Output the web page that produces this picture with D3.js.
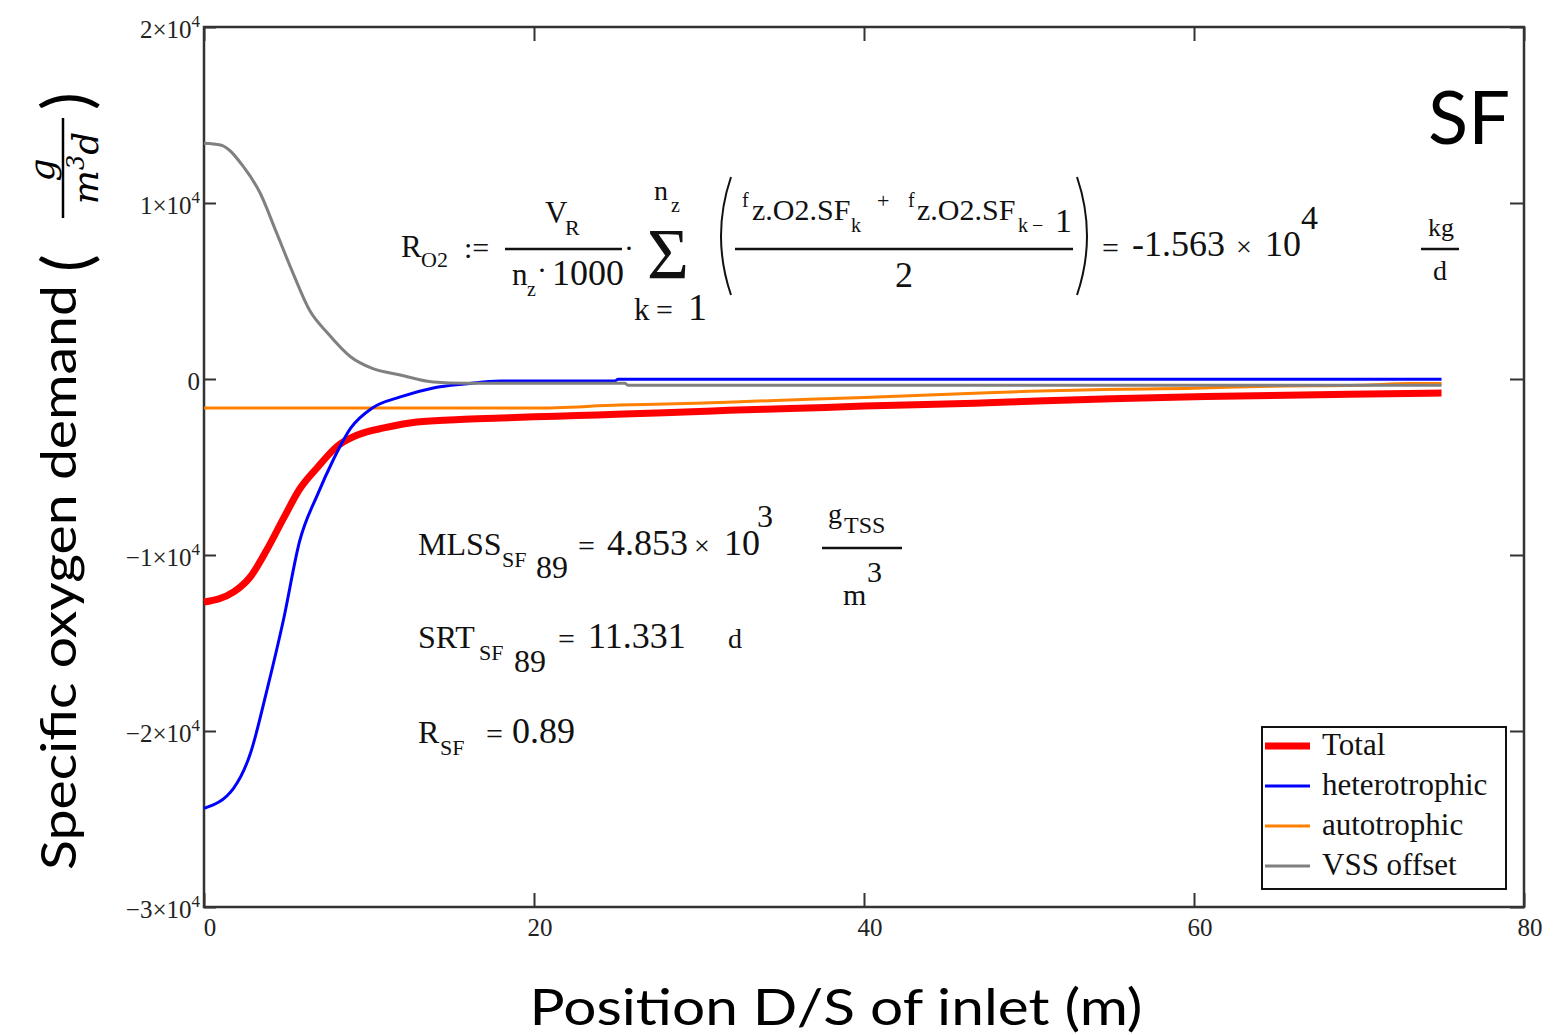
<!DOCTYPE html>
<html>
<head>
<meta charset="utf-8">
<script src="https://cdnjs.cloudflare.com/ajax/libs/d3/7.8.5/d3.min.js"></script>
<style>
body { margin: 0; background: #fff; }
</style>
</head>
<body>
<script>
// position D/S of inlet (m) and oxygen demand (g/m3/d)
var posTotal = [0, 1.8, 2.8, 3.8, 4.8, 5.8, 6.9, 8.1, 9.3, 10.9, 12.9, 15.5, 18, 20, 22.6, 25, 27.9, 30, 31.8, 35.5, 40, 46.7, 50.5, 55, 60.7, 69.4, 75];
var valTotal = [-12670, -12100, -11250, -9720, -7950, -6250, -5000, -3800, -3180, -2780, -2440, -2300, -2220, -2150, -2080, -2000, -1920, -1850, -1780, -1680, -1540, -1380, -1250, -1120, -1000, -870, -800];

var posHetero = [0, 1.8, 2.8, 3.8, 4.8, 5.8, 6.9, 7.8, 8.9, 10.2, 11.9, 13.9, 15.8, 18, 24.9, 25.1, 75];
var valHetero = [-24400, -23240, -21310, -17730, -13750, -9200, -6530, -4660, -2780, -1650, -1020, -510, -280, -110, -110, -20, -20];

var posAuto = [0, 20, 25.2, 29.8, 33.6, 40, 46.7, 50, 54.6, 60, 64, 70, 73, 75];
var valAuto = [-1650, -1650, -1480, -1380, -1250, -1050, -810, -700, -590, -530, -420, -360, -260, -250];

var posVss = [0, 1, 2.4, 3.4, 4.4, 5.4, 6.4, 7.5, 8.9, 10.2, 11.9, 13.9, 15.9, 25.5, 25.7, 75];
var valVss = [13400, 13300, 12050, 10570, 8300, 6000, 3900, 2600, 1250, 600, 230, -170, -240, -240, -360, -360];

var seriesNames = ["Total", "heterotrophic", "autotrophic", "VSS offset"];
var seriesColors = ["#ff0000", "#0000ff", "#ff8000", "#808080"];

var xTickValues = [0, 20, 40, 60, 80];
var yTickValues = [-30000, -20000, -10000, 0, 10000, 20000];
var yTickMantissa = ["\u22123", "\u22122", "\u22121", "0", "1", "2"];

var svgWidth = 1554;
var svgHeight = 1035;

var margin = { top: 27, right: 30, bottom: 128, left: 204 };
var chartWidth = svgWidth - margin.left - margin.right;
var chartHeight = svgHeight - margin.top - margin.bottom;

var serif = "'Liberation Serif', 'Times New Roman', serif";
var sans = "Lato, 'Open Sans', sans-serif";

var svg = d3.select("body")
    .append("svg")
    .attr("width", svgWidth)
    .attr("height", svgHeight);

var chartGroup = svg.append("g")
    .attr("transform", `translate(${margin.left},${margin.top})`);

var xScale = d3.scaleLinear().domain([0, 80]).range([0, chartWidth]);
var yScale = d3.scaleLinear().domain([-30000, 20000]).range([chartHeight, 0]);

// ticks on all four sides, pointing inwards
chartGroup.append("g")
    .attr("transform", `translate(0, ${chartHeight})`)
    .call(d3.axisBottom(xScale).tickValues(xTickValues).tickSize(-14).tickFormat(""))
    .call(g => g.select(".domain").remove());
chartGroup.append("g")
    .call(d3.axisTop(xScale).tickValues(xTickValues).tickSize(-14).tickFormat(""))
    .call(g => g.select(".domain").remove());
chartGroup.append("g")
    .call(d3.axisLeft(yScale).tickValues(yTickValues).tickSize(-12).tickFormat(""))
    .call(g => g.select(".domain").remove());
chartGroup.append("g")
    .attr("transform", `translate(${chartWidth}, 0)`)
    .call(d3.axisRight(yScale).tickValues(yTickValues).tickSize(-14).tickFormat(""))
    .call(g => g.select(".domain").remove());
chartGroup.selectAll(".tick line").attr("stroke", "#333").attr("stroke-width", 2);

chartGroup.append("rect")
    .attr("width", chartWidth)
    .attr("height", chartHeight)
    .attr("fill", "none")
    .attr("stroke", "#333")
    .attr("stroke-width", 2.5);

// tick labels
chartGroup.selectAll(".x-label")
    .data(xTickValues)
    .enter()
    .append("text")
    .attr("x", d => xScale(d) + 6)
    .attr("y", chartHeight + 29)
    .attr("text-anchor", "middle")
    .attr("font-family", serif)
    .attr("font-size", 25)
    .attr("fill", "#222")
    .text(d => d);

var yLabels = chartGroup.selectAll(".y-label")
    .data(yTickValues)
    .enter()
    .append("text")
    .attr("x", -4)
    .attr("y", d => yScale(d) + 11)
    .attr("text-anchor", "end")
    .attr("font-family", serif)
    .attr("font-size", 25)
    .attr("fill", "#222");
yLabels.append("tspan").text((d, i) => d === 0 ? "0" : yTickMantissa[i] + "\u00d710");
yLabels.filter(d => d !== 0).append("tspan")
    .attr("dy", -11)
    .attr("font-size", 17)
    .text("4");

// curves
var line = d3.line()
    .x(d => xScale(d[0]))
    .y(d => yScale(d[1]))
    .curve(d3.curveMonotoneX);

var seriesData = [
    d3.zip(posTotal, valTotal),
    d3.zip(posHetero, valHetero),
    d3.zip(posAuto, valAuto),
    d3.zip(posVss, valVss)
];
var widths = [7, 3, 3, 3];
var drawOrder = [0, 2, 1, 3];

drawOrder.forEach(function (i) {
    chartGroup.append("path")
        .datum(seriesData[i])
        .attr("d", line)
        .attr("fill", "none")
        .attr("stroke", seriesColors[i])
        .attr("stroke-width", widths[i])
        .attr("stroke-linejoin", "round");
});

// legend
var legend = svg.append("g").attr("transform", "translate(1262, 727)");
legend.append("rect")
    .attr("width", 244)
    .attr("height", 162)
    .attr("fill", "#fff")
    .attr("stroke", "#111")
    .attr("stroke-width", 2);
seriesNames.forEach(function (name, i) {
    legend.append("line")
        .attr("x1", 3).attr("x2", 48)
        .attr("y1", 19 + i * 40).attr("y2", 19 + i * 40)
        .attr("stroke", seriesColors[i])
        .attr("stroke-width", widths[i]);
    legend.append("text")
        .attr("x", 60)
        .attr("y", 28 + i * 40)
        .attr("font-family", serif)
        .attr("font-size", 31)
        .attr("fill", "#111")
        .text(name);
});

// Mathcad annotations
function put(x, y, str, size, anchor) {
    return svg.append("text")
        .attr("x", x)
        .attr("y", y)
        .attr("font-family", serif)
        .attr("font-size", size)
        .attr("text-anchor", anchor || "start")
        .attr("fill", "#111")
        .text(str);
}
function bar(x1, x2, y) {
    svg.append("line")
        .attr("x1", x1).attr("x2", x2)
        .attr("y1", y).attr("y2", y)
        .attr("stroke", "#111")
        .attr("stroke-width", 2.5);
}

put(401, 257, "R", 31);
put(421, 267, "O2", 22);
put(464, 258, ":=", 30);
bar(505, 622, 249);
put(545, 223, "V", 31);
put(565, 235, "R", 22);
put(512, 285, "n", 31);
put(527, 296, "z", 20);
put(537, 280, "\u00b7", 30);
put(552, 285, "1000", 36);
put(624, 258, "\u00b7", 30);
put(647, 278, "\u03a3", 72);
put(654, 200, "n", 28);
put(671, 212, "z", 20);
put(634, 320, "k", 31);
put(656, 320, "=", 30);
put(688, 320, "1", 38);

svg.append("path")
    .attr("d", "M731,177 Q711,236 731,295")
    .attr("fill", "none").attr("stroke", "#111").attr("stroke-width", 2);
svg.append("path")
    .attr("d", "M1077,177 Q1097,236 1077,295")
    .attr("fill", "none").attr("stroke", "#111").attr("stroke-width", 2);

put(742, 207, "f", 20);
put(752, 220, "z.O2.SF", 30);
put(851, 232, "k", 20);
put(877, 208, "+", 22);
put(908, 207, "f", 20);
put(917, 220, "z.O2.SF", 30);
put(1018, 232, "k", 20);
put(1032, 232, "\u2212", 20);
put(1055, 232, "1", 34);
bar(735, 1073, 249);
put(895, 287, "2", 36);

put(1102, 258, "=", 30);
put(1132, 256, "-1.563", 36);
put(1236, 256, "\u00d7", 28);
put(1265, 256, "10", 36);
put(1301, 229, "4", 34);
put(1441, 236, "kg", 26, "middle");
bar(1421, 1459, 249);
put(1440, 280, "d", 28, "middle");

put(418, 555, "MLSS", 32);
put(502, 567, "SF", 22);
put(536, 578, "89", 32);
put(578, 556, "=", 30);
put(607, 555, "4.853", 36);
put(694, 555, "\u00d7", 28);
put(724, 555, "10", 36);
put(757, 527, "3", 32);
put(828, 523, "g", 28);
put(844, 533, "TSS", 24);
bar(822, 902, 548);
put(843, 605, "m", 30);
put(867, 582, "3", 30);

put(418, 648, "SRT", 32);
put(479, 660, "SF", 22);
put(514, 672, "89", 32);
put(558, 649, "=", 30);
put(588, 648, "11.331", 36);
put(728, 648, "d", 28);

put(418, 743, "R", 32);
put(440, 755, "SF", 22);
put(486, 744, "=", 30);
put(512, 743, "0.89", 36);

// panel tag
svg.append("text")
    .attr("x", 1510)
    .attr("y", 144)
    .attr("text-anchor", "end")
    .attr("font-family", sans)
    .attr("font-size", 74)
    .attr("fill", "#000")
    .text("SF");

// axis titles
svg.append("text")
    .attr("x", 836)
    .attr("y", 1025)
    .attr("text-anchor", "middle")
    .attr("font-family", sans)
    .attr("font-size", 50)
    .attr("textLength", 613)
    .attr("lengthAdjust", "spacingAndGlyphs")
    .attr("fill", "#000")
    .text("Position D/S of inlet (m)");

var yTitle = svg.append("g").attr("transform", "translate(76, 870) rotate(-90)");
yTitle.append("text")
    .attr("x", 0)
    .attr("y", 0)
    .attr("font-family", sans)
    .attr("font-size", 48)
    .attr("textLength", 585)
    .attr("lengthAdjust", "spacingAndGlyphs")
    .attr("fill", "#000")
    .text("Specific oxygen demand");
yTitle.append("text")
    .attr("x", 598)
    .attr("y", 14)
    .attr("font-family", sans)
    .attr("font-size", 66)
    .attr("fill", "#000")
    .text("(");
yTitle.append("text")
    .attr("x", 700)
    .attr("y", -22)
    .attr("text-anchor", "middle")
    .attr("font-family", "'DejaVu Serif', serif")
    .attr("font-style", "italic")
    .attr("font-size", 36)
    .text("g");
yTitle.append("line")
    .attr("x1", 652).attr("x2", 752)
    .attr("y1", -13).attr("y2", -13)
    .attr("stroke", "#000")
    .attr("stroke-width", 2.5);
var denom = yTitle.append("text")
    .attr("x", 702)
    .attr("y", 22)
    .attr("text-anchor", "middle")
    .attr("font-family", "'DejaVu Serif', serif")
    .attr("font-style", "italic")
    .attr("font-size", 36);
denom.append("tspan").text("m");
denom.append("tspan").attr("dy", -14).attr("font-size", 24).text("3");
denom.append("tspan").attr("dy", 14).text("d");
yTitle.append("text")
    .attr("x", 760)
    .attr("y", 14)
    .attr("font-family", sans)
    .attr("font-size", 66)
    .attr("fill", "#000")
    .text(")");
</script>
</body>
</html>
